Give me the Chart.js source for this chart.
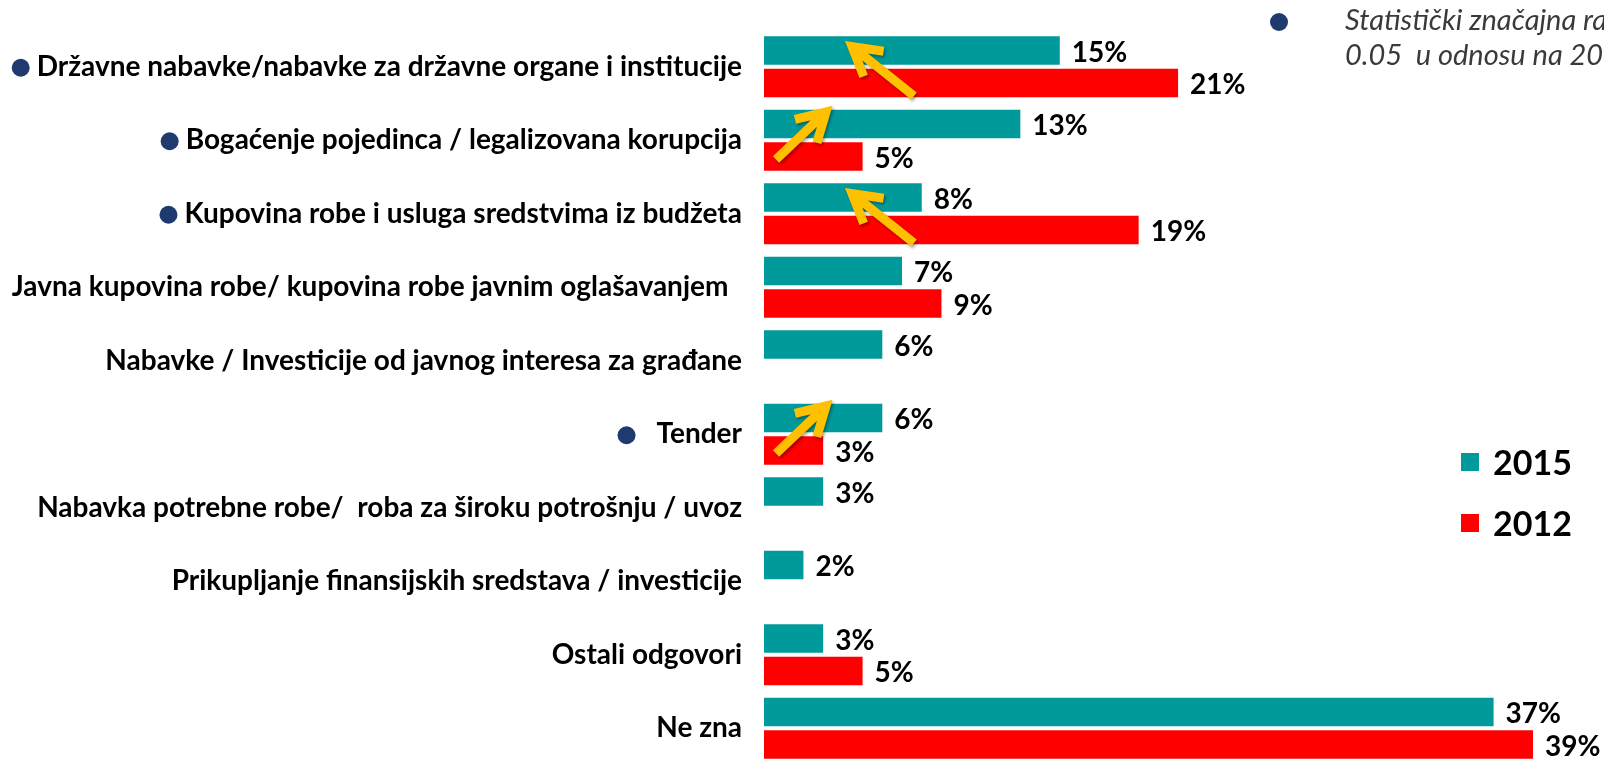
<!DOCTYPE html>
<html>
<head>
<meta charset="utf-8">
<script src="https://cdn.jsdelivr.net/npm/chart.js@4.4.1/dist/chart.umd.min.js"></script>
<style>
  html, body { margin: 0; padding: 0; background: #ffffff; overflow: hidden; }
  #wrap { position: relative; width: 1604px; height: 766px; }
</style>
</head>
<body>
<div id="wrap"><canvas id="c"></canvas></div>
<script>
const categories = [
  "Državne nabavke/nabavke za državne organe i institucije",
  "Bogaćenje pojedinca / legalizovana korupcija",
  "Kupovina robe i usluga sredstvima iz budžeta",
  "Javna kupovina robe/ kupovina robe javnim oglašavanjem  ",
  "Nabavke / Investicije od javnog interesa za građane",
  "Tender",
  "Nabavka potrebne robe/  roba za široku potrošnju / uvoz",
  "Prikupljanje finansijskih sredstava / investicije",
  "Ostali odgovori",
  "Ne zna"
];
const values2015 = [15, 13, 8, 7, 6, 6, 3, 2, 3, 37];
const values2012 = [21, 5, 19, 9, null, 3, null, null, 5, 39];
const significant = [true, true, true, false, false, true, false, false, false, false];
const seriesNames = ["2015", "2012"];
const noteLines = ["Statistički značajna razlika p <", "0.05  u odnosu na 2012"];

const TEAL = "#009a9a";
const RED = "#ff0000";
const NAVY = "#1f3a6e";
const ARROW = "#ffc000";
const LABEL_SIZE = 28;
const LABEL_FONT = "bold " + LABEL_SIZE + "px Lato";
const TICK_PAD = 22;

const bulletGap = { 5: 30 };

const decorPlugin = {
  id: "decor",
  afterDatasetsDraw(chart) {
    const ctx = chart.ctx;
    const yScale = chart.scales.y;
    const m0 = chart.getDatasetMeta(0);
    const m1 = chart.getDatasetMeta(1);

    // value labels
    ctx.save();
    ctx.font = "bold 28px Lato";
    ctx.fillStyle = "#000";
    ctx.textAlign = "left";
    ctx.textBaseline = "middle";
    [m0, m1].forEach((meta, di) => {
      const vals = di === 0 ? values2015 : values2012;
      meta.data.forEach((bar, i) => {
        if (vals[i] === null || vals[i] === undefined) return;
        ctx.fillText(vals[i] + "%", bar.x + 12, bar.y + 2);
      });
    });
    ctx.restore();

    // bullets for significant categories
    ctx.save();
    ctx.font = LABEL_FONT;
    categories.forEach((c, i) => {
      if (!significant[i]) return;
      const w = ctx.measureText(c).width;
      const right = chart.chartArea.left - TICK_PAD;
      const y = yScale.getPixelForValue(i) + 1;
      const gap = bulletGap[i] || 16;
      ctx.beginPath();
      ctx.fillStyle = NAVY;
      ctx.arc(right - w - gap, y, 9, 0, Math.PI * 2);
      ctx.fill();
    });
    ctx.restore();

    // arrows showing significant change
    const left = chart.chartArea.left;
    categories.forEach((c, i) => {
      if (!significant[i]) return;
      const t = m0.data[i], r = m1.data[i];
      if (!t || !r || values2012[i] === null) return;
      let tail, head;
      if (values2015[i] < values2012[i]) {
        tail = [left + 150, r.y + 13];
        head = [left + 88, t.y - 4];
      } else {
        tail = [left + 12, r.y + 3];
        head = [left + 62, t.y - 12];
      }
      drawArrow(ctx, tail, head);
    });

    // legend
    ctx.save();
    const lx = 1461, ly = [462, 523];
    ctx.font = "bold 34px Lato";
    ctx.textBaseline = "middle";
    ctx.textAlign = "left";
    chart.data.datasets.forEach((ds, k) => {
      ctx.fillStyle = ds.backgroundColor;
      ctx.fillRect(lx, ly[k] - 9, 18, 18);
      ctx.fillStyle = "#000";
      ctx.fillText(ds.label, lx + 32, ly[k] + 2);
    });
    ctx.restore();

    // note at top right
    ctx.save();
    ctx.beginPath();
    ctx.fillStyle = NAVY;
    ctx.arc(1279, 22, 9, 0, Math.PI * 2);
    ctx.fill();
    ctx.font = "italic 29px Lato";
    ctx.fillStyle = "#3a3a3a";
    ctx.textBaseline = "middle";
    ctx.fillText(noteLines[0], 1345, 21);
    ctx.fillText(noteLines[1], 1345, 56);
    ctx.restore();
  }
};

function drawArrow(ctx, tail, head) {
  ctx.save();
  ctx.strokeStyle = ARROW;
  ctx.lineWidth = 9;
  ctx.lineCap = "butt";
  ctx.lineJoin = "miter";
  ctx.shadowColor = "rgba(0,0,0,0.35)";
  ctx.shadowBlur = 3;
  ctx.shadowOffsetX = 1.5;
  ctx.shadowOffsetY = 2;
  const ang = Math.atan2(tail[1] - head[1], tail[0] - head[0]);
  const L = 32, spread = Math.PI / 6;
  ctx.beginPath();
  ctx.moveTo(tail[0], tail[1]);
  ctx.lineTo(head[0], head[1]);
  ctx.moveTo(head[0] + L * Math.cos(ang - spread), head[1] + L * Math.sin(ang - spread));
  ctx.lineTo(head[0], head[1]);
  ctx.lineTo(head[0] + L * Math.cos(ang + spread), head[1] + L * Math.sin(ang + spread));
  ctx.stroke();
  ctx.restore();
}

new Chart(document.getElementById("c"), {
  type: "bar",
  data: {
    labels: categories,
    datasets: [
      { label: seriesNames[0], data: values2015, backgroundColor: TEAL, borderWidth: 0 },
      { label: seriesNames[1], data: values2012, backgroundColor: RED, borderWidth: 0 }
    ]
  },
  options: {
    indexAxis: "y",
    responsive: true,
    maintainAspectRatio: false,
    animation: false,
    categoryPercentage: 0.884,
    barPercentage: 0.877,
    layout: { padding: { top: 30, bottom: 1, left: 0, right: 0 } },
    plugins: { legend: { display: false }, tooltip: { enabled: false }, title: { display: false } },
    scales: {
      x: { display: false, min: 0, max: 42.6 },
      y: {
        grid: { display: false, drawTicks: false },
        border: { display: false },
        afterFit(scale) {
          scale.width = 764;
          scale.paddingTop = 0;
          scale.paddingBottom = 0;
        },
        ticks: {
          padding: TICK_PAD,
          color: "#000",
          font: { family: "Lato", size: LABEL_SIZE, weight: "bold" }
        }
      }
    }
  },
  plugins: [decorPlugin]
});
</script>
</body>
</html>
